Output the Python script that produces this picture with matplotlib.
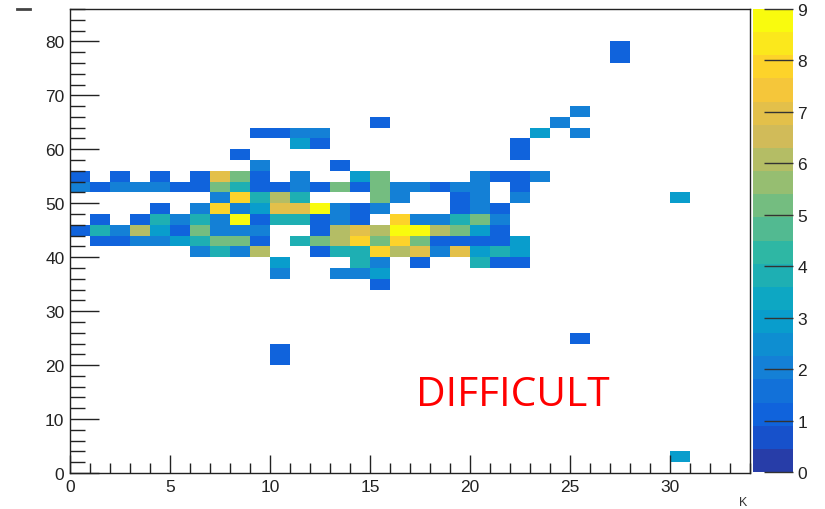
import numpy as np
import matplotlib
matplotlib.use("Agg")
import matplotlib.pyplot as plt
from matplotlib.colors import LinearSegmentedColormap, ListedColormap, BoundaryNorm
from matplotlib.ticker import MultipleLocator
from matplotlib.lines import Line2D

# Occupied cells of the 2D histogram: lower x edge, lower y edge, entries
cell_x = [
    25,
    15, 24,
    9, 10, 11, 12, 23, 25,
    11, 12, 22,
    8, 22,
    9, 13,
    0, 2, 4, 6, 7, 8, 9, 11, 14, 15, 20, 21, 22, 23,
    0, 1, 2, 3, 4, 5, 6, 7, 8, 9, 10, 11, 12, 13, 14, 15, 16, 17, 18, 19, 20, 22,
    7, 8, 9, 10, 11, 15, 16, 19, 20, 22, 30,
    4, 6, 7, 8, 9, 10, 11, 12, 13, 14, 15, 19, 20, 21,
    1, 3, 4, 5, 6, 7, 8, 9, 10, 11, 12, 13, 14, 16, 17, 18, 19, 20, 21,
    0, 1, 2, 3, 4, 5, 6, 7, 8, 9, 12, 13, 14, 15, 16, 17, 18, 19, 20, 21,
    1, 2, 3, 4, 5, 6, 7, 8, 9, 11, 12, 13, 14, 15, 16, 17, 18, 19, 20, 21, 22,
    6, 7, 8, 9, 12, 13, 14, 15, 16, 17, 18, 19, 20, 21, 22,
    10, 14, 15, 17, 20, 21, 22,
    10, 13, 14, 15,
    15,
    25,
    10, 10,
    27, 27,
    30,
]
cell_y = [
    66,
    64, 64,
    62, 62, 62, 62, 62, 62,
    60, 60, 60,
    58, 58,
    56, 56,
    54, 54, 54, 54, 54, 54, 54, 54, 54, 54, 54, 54, 54, 54,
    52, 52, 52, 52, 52, 52, 52, 52, 52, 52, 52, 52, 52, 52, 52, 52, 52, 52, 52, 52, 52, 52,
    50, 50, 50, 50, 50, 50, 50, 50, 50, 50, 50,
    48, 48, 48, 48, 48, 48, 48, 48, 48, 48, 48, 48, 48, 48,
    46, 46, 46, 46, 46, 46, 46, 46, 46, 46, 46, 46, 46, 46, 46, 46, 46, 46, 46,
    44, 44, 44, 44, 44, 44, 44, 44, 44, 44, 44, 44, 44, 44, 44, 44, 44, 44, 44, 44,
    42, 42, 42, 42, 42, 42, 42, 42, 42, 42, 42, 42, 42, 42, 42, 42, 42, 42, 42, 42, 42,
    40, 40, 40, 40, 40, 40, 40, 40, 40, 40, 40, 40, 40, 40, 40,
    38, 38, 38, 38, 38, 38, 38,
    36, 36, 36, 36,
    34,
    24,
    20, 22,
    76, 78,
    2,
]
cell_counts = [
    2,
    1, 2,
    1, 1, 2, 2, 3, 2,
    3, 1, 1,
    1, 1,
    2, 1,
    1, 1, 1, 1, 7, 5, 1, 2, 3, 5, 2, 1, 1, 2,
    2, 1, 2, 2, 2, 1, 1, 5, 4, 1, 1, 2, 1, 5, 1, 5, 2, 2, 1, 2, 2, 1,
    2, 8, 4, 6, 4, 5, 2, 1, 2, 2, 3,
    1, 2, 8, 2, 3, 7, 7, 9, 2, 1, 2, 1, 2, 1,
    1, 1, 4, 2, 4, 2, 9, 1, 4, 4, 1, 2, 1, 8, 2, 2, 4, 5, 2,
    1, 4, 2, 6, 3, 1, 5, 2, 2, 2, 1, 6, 7, 6, 9, 9, 6, 5, 3, 1,
    1, 1, 2, 2, 3, 4, 5, 5, 1, 4, 5, 6, 8, 5, 8, 5, 1, 1, 1, 1, 3,
    2, 4, 2, 6, 1, 4, 4, 8, 6, 7, 2, 7, 3, 4, 3,
    3, 4, 2, 1, 4, 1, 1,
    2, 2, 2, 3,
    1,
    1,
    1, 1,
    1, 1,
    3,
]

x_edges = np.arange(0, 35, 1)
y_edges = np.arange(0, 88, 2)
z_max = 9
n_contours = 20
cbar_ticks = list(range(0, 10))

# ROOT "kBird" palette
stops = [0.0000, 0.1250, 0.2500, 0.3750, 0.5000, 0.6250, 0.7500, 0.8750, 1.0000]
red = [0.2082, 0.0592, 0.0780, 0.0232, 0.1802, 0.5301, 0.8186, 0.9956, 0.9764]
green = [0.1664, 0.3599, 0.5041, 0.6419, 0.7178, 0.7492, 0.7328, 0.7862, 0.9832]
blue = [0.5293, 0.8684, 0.8385, 0.7914, 0.6425, 0.4662, 0.3499, 0.1968, 0.0539]
bird = LinearSegmentedColormap.from_list(
    "bird", list(zip(stops, zip(red, green, blue))), N=255)
levels = [int((k + 0.99) * 255 / n_contours) / 254.0 for k in range(n_contours)]
cmap = ListedColormap([bird(min(p, 1.0)) for p in levels])
norm = BoundaryNorm(np.linspace(0, z_max, n_contours + 1), n_contours)

plt.rcParams["font.family"] = ["Liberation Sans", "DejaVu Sans"]

W, H = 825, 510
fig = plt.figure(figsize=(W / 100, H / 100), dpi=100)
fig.patch.set_facecolor("white")

ax = fig.add_axes([70 / W, 36 / H, 680 / W, 464 / H])
cx = np.array(cell_x) + 0.5
cy = np.array(cell_y) + 1.0
h = ax.hist2d(cx, cy, bins=[x_edges, y_edges], weights=cell_counts,
              cmin=0.5, cmap=cmap, norm=norm)

ax.set_xlim(0, 34)
ax.set_ylim(0, 86)
ax.xaxis.set_major_locator(MultipleLocator(5))
ax.xaxis.set_minor_locator(MultipleLocator(1))
ax.yaxis.set_major_locator(MultipleLocator(10))
ax.yaxis.set_minor_locator(MultipleLocator(2))
ax.tick_params(axis="both", which="both", direction="in", top=False, right=False,
               width=1.0, color="#222222", labelsize=12.5, labelcolor="#222222")
ax.tick_params(axis="x", which="major", length=13, pad=4)
ax.tick_params(axis="x", which="minor", length=7)
ax.tick_params(axis="y", which="major", length=21, pad=4)
ax.tick_params(axis="y", which="minor", length=11)
for s in ax.spines.values():
    s.set_linewidth(1.0)
    s.set_color("#222222")

# Colour scale
cax = fig.add_axes([753 / W, 37 / H, 40 / W, 463 / H])
cb = fig.colorbar(h[3], cax=cax, ticks=cbar_ticks)
cb.outline.set_visible(False)
cax.yaxis.set_ticks_position("right")
cax.tick_params(axis="y", which="major", direction="in", length=21, width=1.0,
                color="#333333", labelsize=12.5, labelcolor="#222222", pad=3)
cax.tick_params(axis="y", which="minor", length=0)
cax.set_yticklabels([str(t) for t in cbar_ticks])

# Annotation
fig.text(416 / W, (H - 406) / H, "DIFFICULT", color="#ff0000",
         fontsize=29.3, family=["Open Sans", "DejaVu Sans"], ha="left", va="baseline")

# Axis titles
fig.text(739 / W, (H - 497) / H, "K", fontsize=9, color="#333333",
         ha="left", va="top")
fig.add_artist(Line2D([17 / W, 30 / W], [(H - 9.5) / H, (H - 9.5) / H],
                      transform=fig.transFigure, color="#444444", lw=2))

fig.savefig("out.png", dpi=100)
